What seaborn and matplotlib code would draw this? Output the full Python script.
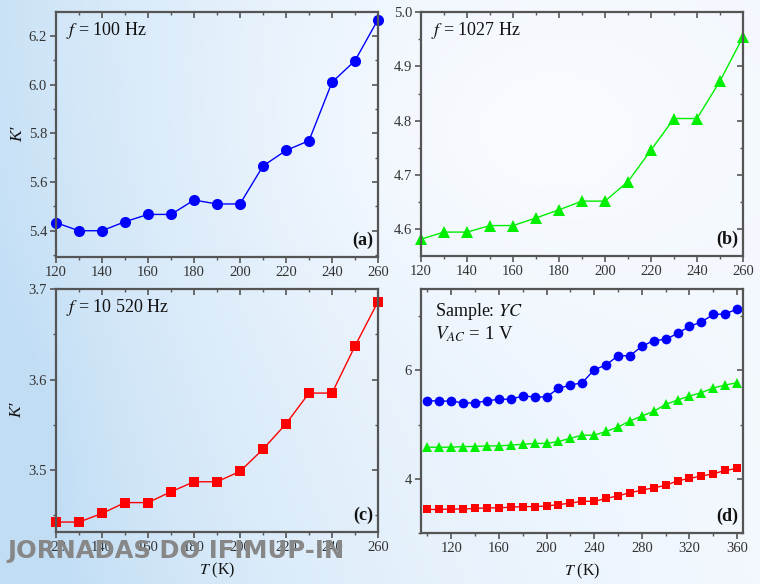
import numpy as np
import matplotlib
matplotlib.use("Agg")
import matplotlib.pyplot as plt
from matplotlib.ticker import MultipleLocator
import seaborn as sns

# Temperature grids (K)
temp_short = [120, 130, 140, 150, 160, 170, 180, 190, 200, 210, 220, 230, 240, 250, 260]
temp_full = [100, 110, 120, 130, 140, 150, 160, 170, 180, 190, 200, 210, 220,
             230, 240, 250, 260, 270, 280, 290, 300, 310, 320, 330, 340, 350, 360]

# Real part of the dielectric constant, K'
k_100hz = [5.433, 5.400, 5.400, 5.437, 5.467, 5.467, 5.526, 5.510, 5.510,
           5.666, 5.730, 5.770, 6.010, 6.099, 6.268]
k_1027hz = [4.582, 4.595, 4.595, 4.607, 4.607, 4.621, 4.636, 4.652, 4.652,
            4.688, 4.746, 4.804, 4.804, 4.873, 4.954]
k_10520hz = [3.4425, 3.4425, 3.452, 3.464, 3.464, 3.476, 3.487, 3.487, 3.4985,
             3.523, 3.551, 3.585, 3.585, 3.637, 3.686]

k_100hz_full = [5.440, 5.434] + k_100hz + [6.27, 6.44, 6.55, 6.57, 6.68, 6.81,
                                          6.89, 7.03, 7.04, 7.13]
k_1027hz_full = [4.582, 4.582] + k_1027hz + [5.065, 5.157, 5.243, 5.372, 5.452,
                                             5.526, 5.588, 5.674, 5.729, 5.772]
k_10520hz_full = [3.434, 3.434] + k_10520hz + [3.742, 3.790, 3.834, 3.877, 3.963,
                                              4.006, 4.049, 4.092, 4.154, 4.190]

panel_labels = ["(a)", "(b)", "(c)", "(d)"]
freq_labels = [r"$f$ = 100 Hz", r"$f$ = 1027 Hz", r"$f$ = 10 520 Hz"]

sns.set_theme(style="white")
plt.rcParams["font.family"] = ["Liberation Serif", "DejaVu Serif"]
plt.rcParams["mathtext.fontset"] = "stix"

W, H = 760, 584
fig = plt.figure(figsize=(W / 100, H / 100), dpi=100)

# soft blue backdrop
bg = fig.add_axes([0, 0, 1, 1], zorder=-10)
yy, xx = np.mgrid[0:H, 0:W]
xn, yn = xx / W, yy / H
w = 0.75 * (1 - xn) ** 2.5 + 0.30 * yn ** 1.5 * (1 - xn) ** 0.8 + 0.10
w += 0.15 * np.exp(-((xn - 0.0) ** 2) / 0.01 - ((yn - 0.75) ** 2) / 0.06)
w -= 0.15 * np.exp(-((xn - 0.6) ** 2) / 0.10 - ((yn - 0.25) ** 2) / 0.08)
w = np.clip(w, 0, 1)
white = np.array([0.975, 0.985, 1.0])
blue = np.array([0.76, 0.87, 0.96])
img = white[None, None, :] * (1 - w[..., None]) + blue[None, None, :] * w[..., None]
bg.imshow(img, aspect="auto", extent=[0, 1, 0, 1], origin="upper")
bg.set_axis_off()

rects = [
    [56 / W, 1 - 257 / H, 322 / W, 245 / H],
    [421 / W, 1 - 256 / H, 322 / W, 244 / H],
    [56 / W, 1 - 532 / H, 322 / W, 243 / H],
    [421 / W, 1 - 533 / H, 322 / W, 244 / H],
]
axes = [fig.add_axes(r) for r in rects]

spine_col = "#555555"


def style_axes(ax):
    ax.set_facecolor("none")
    for s in ax.spines.values():
        s.set_color(spine_col)
        s.set_linewidth(1.6)
        s.set_visible(True)
    ax.tick_params(which="both", direction="out", colors="#333333",
                   labelsize=10.5, bottom=True, left=True, top=False, right=False,
                   pad=2.5)
    ax.tick_params(which="major", length=4, width=1.2, color=spine_col)
    ax.tick_params(which="minor", length=2.5, width=1.0, color=spine_col)
    ax.grid(False)
    # inward ticks on the top and right edges
    sx = ax.secondary_xaxis("top")
    sy = ax.secondary_yaxis("right")
    for sec in (sx, sy):
        sec.tick_params(which="both", direction="in", labelsize=0, color=spine_col)
        sec.tick_params(which="major", length=4, width=1.2)
        sec.tick_params(which="minor", length=2.5, width=1.0)
        for s in sec.spines.values():
            s.set_visible(False)
    sx.set_xticklabels([])
    sy.set_yticklabels([])
    return sx, sy


series = [
    (axes[0], k_100hz, "#0000ff", "o", 8),
    (axes[1], k_1027hz, "#00ee00", "^", 8),
    (axes[2], k_10520hz, "#ff0000", "s", 7),
]
for ax, vals, col, mk, ms in series:
    sns.lineplot(x=temp_short, y=vals, ax=ax, color=col, marker=mk,
                 markersize=ms, markeredgewidth=0, linewidth=1.0, clip_on=False)

for vals, col, mk, ms in ((k_100hz_full, "#0000ff", "o", 7),
                          (k_1027hz_full, "#00ee00", "^", 7),
                          (k_10520hz_full, "#ff0000", "s", 6)):
    sns.lineplot(x=temp_full, y=vals, ax=axes[3], color=col, marker=mk,
                 markersize=ms, markeredgewidth=0, linewidth=1.0)

# limits and tick spacing
axes[0].set_ylim(5.292, 6.299)
axes[0].yaxis.set_major_locator(MultipleLocator(0.2))
axes[0].yaxis.set_minor_locator(MultipleLocator(0.1))
axes[1].set_ylim(4.551, 5.0)
axes[1].yaxis.set_major_locator(MultipleLocator(0.1))
axes[1].yaxis.set_minor_locator(MultipleLocator(0.05))
axes[2].set_ylim(3.4315, 3.70)
axes[2].yaxis.set_major_locator(MultipleLocator(0.1))
axes[2].yaxis.set_minor_locator(MultipleLocator(0.05))
for ax in axes[:3]:
    ax.set_xlim(120, 260)
    ax.xaxis.set_major_locator(MultipleLocator(20))
    ax.xaxis.set_minor_locator(MultipleLocator(10))
axes[3].set_xlim(94.6, 365)
axes[3].set_ylim(3.0, 7.5)
axes[3].xaxis.set_major_locator(MultipleLocator(40))
axes[3].xaxis.set_minor_locator(MultipleLocator(20))
axes[3].yaxis.set_major_locator(MultipleLocator(2))
axes[3].yaxis.set_minor_locator(MultipleLocator(1))

for i, ax in enumerate(axes):
    sx, sy = style_axes(ax)
    sx.xaxis.set_major_locator(ax.xaxis.get_major_locator())
    sx.xaxis.set_minor_locator(ax.xaxis.get_minor_locator())
    sy.yaxis.set_major_locator(ax.yaxis.get_major_locator())
    sy.yaxis.set_minor_locator(ax.yaxis.get_minor_locator())
    ax.set_xlabel("")
    ax.set_ylabel("")
    ax.text(0.985, 0.05, panel_labels[i], transform=ax.transAxes, ha="right",
            va="baseline", fontsize=13, fontweight="bold", color="#111111")

for ax, lab in zip(axes[:3], freq_labels):
    ax.text(0.03, 0.905, lab, transform=ax.transAxes, ha="left", va="baseline",
            fontsize=13, color="#111111")

axes[3].text(0.045, 0.89, r"Sample: $YC$", transform=axes[3].transAxes,
             ha="left", va="baseline", fontsize=13, color="#111111")
axes[3].text(0.045, 0.795, r"$V_{AC}$ = 1 V", transform=axes[3].transAxes,
             ha="left", va="baseline", fontsize=13.5, color="#111111")

for ax in (axes[0], axes[2]):
    ax.set_ylabel("K\u2032", fontsize=12.5, fontstyle="italic", labelpad=2,
                  color="#111111", family=["Liberation Serif", "DejaVu Serif"])
for ax in (axes[2], axes[3]):
    ax.set_xlabel(r"$T$ (K)", fontsize=11.5, labelpad=5, color="#111111")

fig.text(7 / W, 1 - 558 / H, "JORNADAS DO IFIMUP-IN", family="DejaVu Sans",
         fontsize=17.5, fontweight="bold", color="#878787", ha="left",
         va="baseline", zorder=20)

fig.savefig("out.png", dpi=100)
